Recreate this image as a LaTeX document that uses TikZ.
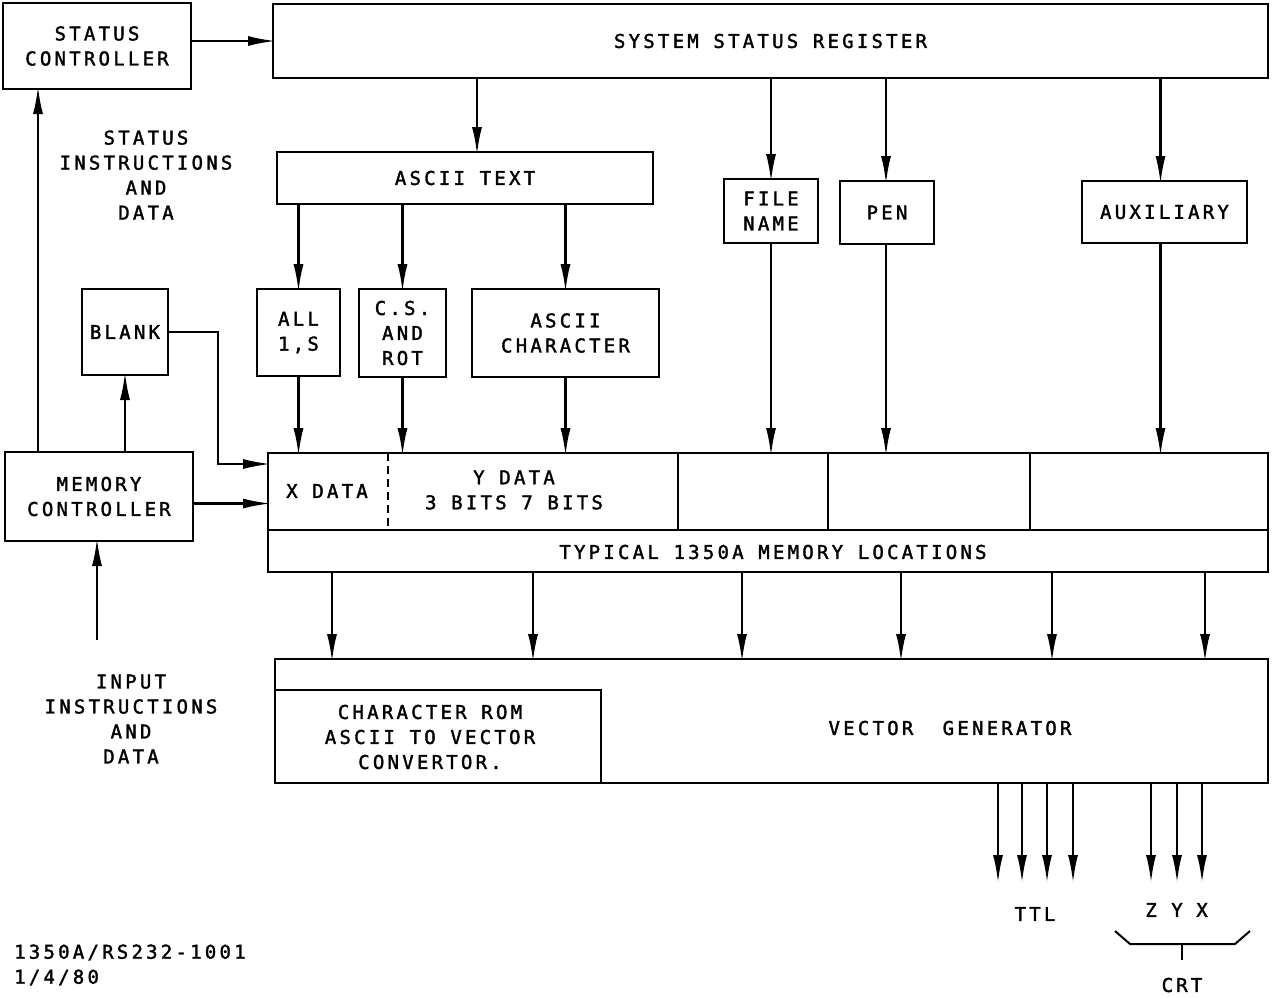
\documentclass[tikz,border=0pt]{standalone}
\usepackage{fontspec}
\setmainfont[LetterSpace=17,FakeBold=1.8]{DejaVu Sans Mono}
\usetikzlibrary{arrows.meta,calc}
\begin{document}
\begin{tikzpicture}[x=1pt,y=-1pt,line width=2.4pt,
  box/.style={draw,rectangle,inner sep=0pt,outer sep=0pt,align=center,font=\fontsize{19}{25}\selectfont},
  lbl/.style={inner sep=0pt,align=center,font=\fontsize{19}{25}\selectfont},
  arr/.style={-{Latex[length=28pt,width=10pt]},shorten >=-3pt}]
\useasboundingbox (0,0) rectangle (1273,997);
% boxes
\node[box,minimum width=188pt,minimum height=86pt] (sc) at (97,46) {STATUS\\CONTROLLER};
\node[box,minimum width=995pt,minimum height=74pt] (ssr) at (770.5,41) {SYSTEM STATUS REGISTER};
\node[box,minimum width=376pt,minimum height=52pt] (asc) at (465,178) {ASCII TEXT};
\node[box,minimum width=94pt,minimum height=64pt] (fn) at (771,211) {FILE\\NAME};
\node[box,minimum width=94pt,minimum height=63pt] (pen) at (887,212.5) {PEN};
\node[box,minimum width=165pt,minimum height=62pt] (aux) at (1164.5,212) {AUXILIARY};
\node[box,minimum width=83pt,minimum height=87pt] (all) at (298.5,332.5) {ALL\\1,S};
\node[box,minimum width=87pt,minimum height=88pt] (cs) at (402.5,333) {C.S.\\AND\\ROT};
\node[box,minimum width=187pt,minimum height=88pt] (ach) at (565.5,333) {ASCII\\CHARACTER};
\node[box,minimum width=86pt,minimum height=86pt] (blank) at (125,332) {BLANK};
\node[box,minimum width=188pt,minimum height=89pt] (mc) at (99,496.5) {MEMORY\\CONTROLLER};
\node[box,minimum width=1000pt,minimum height=119pt] (mem) at (768,512.5) {};
\node[box,minimum width=993pt,minimum height=124pt] (vg) at (771.5,721) {};
\node[box,minimum width=326pt,minimum height=93pt] (rom) at (438,736.5) {};
% memory cells
\draw ([yshift=42pt]mem.south west) -- ([yshift=42pt]mem.south east);
\draw[dash pattern=on 8pt off 5pt,line width=2pt] ([xshift=120pt]mem.north west) -- ([xshift=120pt,yshift=42pt]mem.south west);
\foreach \o in {410,560,762}
  \draw ([xshift=\o pt]mem.north west) -- ([xshift=\o pt,yshift=42pt]mem.south west);
% texts
\node[lbl] (xd) at (327,491) {X DATA};
\node[lbl] (yd) at (514,490) {Y DATA\\3 BITS 7 BITS};
\node[lbl] (typ) at (773,552) {TYPICAL 1350A MEMORY LOCATIONS};
\node[lbl] (romt) at (430,737) {CHARACTER ROM\\ASCII TO VECTOR\\CONVERTOR.};
\node[lbl] (vgt) at (950,728) {VECTOR\ \ GENERATOR};
\node[lbl] (sid) at (146,175) {STATUS\\INSTRUCTIONS\\AND\\DATA};
\node[lbl] (iid) at (131,719) {INPUT\\INSTRUCTIONS\\AND\\DATA};
\node[lbl,align=left,anchor=west] (ref) at (13,965) {1350A/RS232-1001\\1/4/80};
\node[lbl] (ttl) at (1035,914) {TTL};
\node[lbl] (zl) at (1151,910) {Z};
\node[lbl] (yl) at (1177,910) {Y};
\node[lbl] (xl) at (1202,910) {X};
\node[lbl] (crt) at (1182,985) {CRT};
% connectors
\draw[arr] (sc.east |- ssr.west) -- (ssr.west);
\draw[arr] ([xshift=12pt]asc.north |- ssr.south) -- ([xshift=12pt]asc.north);
\draw[arr] (ssr.south -| fn.north) -- (fn.north);
\draw[arr] ([xshift=-1pt]pen.north |- ssr.south) -- ([xshift=-1pt]pen.north);
\draw[arr] ([xshift=-4pt]aux.north |- ssr.south) -- ([xshift=-4pt]aux.north);
\draw[arr] (asc.south -| all.north) -- (all.north);
\draw[arr] (asc.south -| cs.north) -- (cs.north);
\draw[arr] (asc.south -| ach.north) -- (ach.north);
\draw[arr] (all.south) -- (all.south |- mem.north);
\draw[arr] (cs.south) -- (cs.south |- mem.north);
\draw[arr] (ach.south) -- (ach.south |- mem.north);
\draw[arr] (fn.south) -- (fn.south |- mem.north);
\draw[arr] ([xshift=-1pt]pen.south) -- ([xshift=-1pt]pen.south |- mem.north);
\draw[arr] ([xshift=-4pt]aux.south) -- ([xshift=-4pt]aux.south |- mem.north);
\foreach \o in {64,265,474,633,784,937}
  \draw[arr] ([xshift=\o pt]mem.south west) -- ([xshift=\o pt]mem.south west |- vg.north);
\draw[arr] ([xshift=33pt]mc.north west) -- ([xshift=33pt]mc.north west |- sc.south);
\draw[arr] (mc.north -| blank.south) -- (blank.south);
\draw[arr] (blank.east) -- ++(50,0) |- ([yshift=48.5pt]mem.west);
\draw[arr] ([yshift=-7pt]mc.east) -- ([yshift=-7pt]mc.east -| mem.west);
\coordinate (inp) at (97,640);
\draw[arr] (inp) -- (inp |- mc.south);
\foreach \o/\n in {723/a,747/b,772/c,798/d,876/e,902/f,927/g}{
  \coordinate (out\n) at ([xshift=\o pt,yshift=-100pt]vg.south west);
  \draw[arr,shorten >=0pt] ([xshift=\o pt]vg.south west) -- (out\n);
}
\draw[line width=2pt] (1115,931) -- (1130,944) -- (1235,944) -- (1250,931);
\draw[line width=2pt] (1182,944) -- (1182,960);
\end{tikzpicture}
\end{document}
